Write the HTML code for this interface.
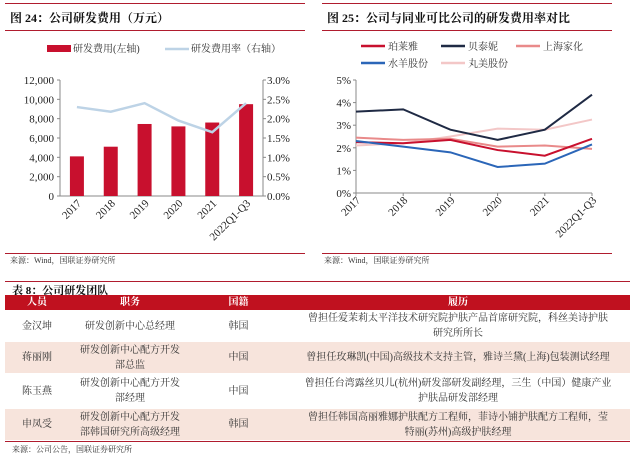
<!DOCTYPE html>
<html><head><meta charset="utf-8"><style>
body{margin:0;width:640px;height:460px;background:#fff;position:relative;overflow:hidden;font-family:"Liberation Serif","Noto Serif CJK SC",serif;}
.abs{position:absolute;}
.rl{position:absolute;height:1px;background:#b01c2e;}
.t{position:absolute;font-weight:bold;font-size:12px;color:#111;}
.src{position:absolute;font-size:8px;color:#333;}
table{position:absolute;left:5px;top:295px;width:625px;border-collapse:collapse;font-size:10px;color:#333;}
td,th{text-align:center;padding:0;line-height:15px;}
th{background:#c0111f;color:#fff;font-weight:bold;height:15px;font-size:10px;}
tr.p td{background:#f7e4dc;}
</style></head><body>
<div class="rl" style="left:5px;top:3px;width:300px"></div>
<div class="t" style="left:10px;top:9px">图 24：公司研发费用（万元）</div>
<div class="rl" style="left:5px;top:30px;width:300px"></div>
<div class="rl" style="left:322px;top:3px;width:290px"></div>
<div class="t" style="left:327px;top:9px">图 25：公司与同业可比公司的研发费用率对比</div>
<div class="rl" style="left:322px;top:30px;width:290px"></div>

<svg class="abs" style="left:0;top:0" width="640" height="275" id="svg"></svg>

<div class="rl" style="left:5px;top:253px;width:300px"></div>
<div class="src" style="left:10px;top:255px">来源：Wind，国联证券研究所</div>
<div class="rl" style="left:322px;top:253px;width:290px"></div>
<div class="src" style="left:324px;top:255px">来源：Wind，国联证券研究所</div>

<div class="rl" style="left:5px;top:281px;width:625px"></div>
<div class="t" style="left:12px;top:282px;font-size:11px">表 8：公司研发团队</div>
<table>
<tr style="height:15px"><th style="width:64px">人员</th><th style="width:122px">职务</th><th style="width:95px">国籍</th><th>履历</th></tr>
<tr style="height:32px"><td>金汉坤</td><td>研发创新中心总经理</td><td>韩国</td><td>曾担任爱茉莉太平洋技术研究院护肤产品首席研究院，科丝美诗护肤<br>研究所所长</td></tr>
<tr class="p" style="height:31px"><td>蒋丽刚</td><td>研发创新中心配方开发<br>部总监</td><td>中国</td><td>曾担任玫琳凯(中国)高级技术支持主管，雅诗兰黛(上海)包装测试经理</td></tr>
<tr style="height:36px"><td>陈玉燕</td><td>研发创新中心配方开发<br>部经理</td><td>中国</td><td>曾担任台湾露丝贝儿(杭州)研发部研发副经理，三生（中国）健康产业<br>护肤品研发部经理</td></tr>
<tr class="p" style="height:31px"><td>申凤受</td><td>研发创新中心配方开发<br>部韩国研究所高级经理</td><td>韩国</td><td>曾担任韩国高丽雅娜护肤配方工程师，菲诗小铺护肤配方工程师，莹<br>特丽(苏州)高级护肤经理</td></tr>
</table>
<div class="rl" style="left:5px;top:441px;width:625px"></div>
<div class="src" style="left:12px;top:444px">来源：公司公告，国联证券研究所</div>

<script>
const cats=["2017","2018","2019","2020","2021","2022Q1-Q3"];
const rdExp=[4100,5100,7450,7200,7600,9500];
const rdRate=[2.3,2.18,2.4,1.95,1.65,2.4];
const leftTicks=[0,2000,4000,6000,8000,10000,12000];
const rightTicks=[0,0.5,1,1.5,2,2.5,3];
const seriesNames=["珀莱雅","贝泰妮","上海家化","水羊股份","丸美股份"];
const s1=[2.25,2.2,2.35,1.9,1.65,2.4];
const s2=[3.6,3.7,2.8,2.35,2.8,4.35];
const s3=[2.45,2.35,2.4,2.05,2.1,1.95];
const s4=[2.3,2.05,1.8,1.15,1.3,2.15];
const s5=[2.1,2.2,2.5,2.85,2.8,3.25];
const pctTicks=[0,1,2,3,4,5];
const colors=["#c8102e","#1f2a44","#e98a8a","#2b66b8","#f3c7c7"];
const NS="http://www.w3.org/2000/svg";
const svg=document.getElementById('svg');
function mk(tag,at,txt){const e=document.createElementNS(NS,tag);for(const k in at)e.setAttribute(k,at[k]);if(txt!==undefined)e.textContent=txt;svg.appendChild(e);return e;}
const F='"Liberation Serif","Noto Serif CJK SC",serif';
// chart 1
const x0=60,x1=263,yb=196,yt=80;
const bw=(x1-x0)/cats.length;
const cx=i=>x0+bw*(i+0.5);
const yL=v=>yb-(v/12000)*(yb-yt);
const yR=v=>yb-(v/3)*(yb-yt);
mk('line',{x1:x0,y1:yt,x2:x0,y2:yb,stroke:'#888'});
mk('line',{x1:x1,y1:yt,x2:x1,y2:yb,stroke:'#888'});
mk('line',{x1:x0,y1:yb,x2:x1,y2:yb,stroke:'#888'});
leftTicks.forEach(v=>{mk('line',{x1:x0-3,y1:yL(v),x2:x0,y2:yL(v),stroke:'#888'});
 const t=mk('text',{x:x0-6,y:yL(v)+4,'text-anchor':'end','font-size':11,'font-family':F,fill:'#222'},v.toLocaleString('en-US'));
 });
rightTicks.forEach(v=>{mk('line',{x1:x1,y1:yR(v),x2:x1+3,y2:yR(v),stroke:'#888'});
 const t=mk('text',{x:x1+4,y:yR(v)+4,'font-size':11,'font-family':F,fill:'#222'},v.toFixed(1)+'%');
 });
rdExp.forEach((v,i)=>{const r=mk('rect',{x:cx(i)-7,y:yL(v),width:14,height:yb-yL(v),fill:'#c8102e'});
 });
const ln=mk('polyline',{points:rdRate.map((v,i)=>cx(i)+','+yR(v)).join(' '),fill:'none',stroke:'#bdd3e6','stroke-width':2.5});

cats.forEach((c,i)=>{const t=mk('text',{x:cx(i)+5,y:yb+8,'text-anchor':'end','font-size':11,'font-family':F,fill:'#222',transform:`rotate(-45 ${cx(i)+5} ${yb+8})`},c);
 });
mk('rect',{x:47,y:45,width:24,height:7,fill:'#c8102e'});
mk('text',{x:73,y:52,'font-size':10,'font-family':F,fill:'#333'},'研发费用(左轴)');
mk('line',{x1:165,y1:49,x2:189,y2:49,stroke:'#bdd3e6','stroke-width':2.5});
mk('text',{x:191,y:52,'font-size':10,'font-family':F,fill:'#333'},'研发费用率（右轴）');
// chart 2
const a0=356,a1=592,by=193,ty=80;
const px=i=>a0+(a1-a0)*i/(cats.length-1);
const py=v=>by-(v/5)*(by-ty);
mk('line',{x1:a0,y1:ty,x2:a0,y2:by,stroke:'#888'});
mk('line',{x1:a0,y1:by,x2:a1,y2:by,stroke:'#888'});
pctTicks.forEach(v=>{mk('line',{x1:a0-3,y1:py(v),x2:a0,y2:py(v),stroke:'#888'});
 const t=mk('text',{x:a0-5,y:py(v)+4,'text-anchor':'end','font-size':11,'font-family':F,fill:'#222'},v+'%');
 });
cats.forEach((c,i)=>{mk('line',{x1:px(i),y1:by,x2:px(i),y2:by+3,stroke:'#888'});
 const t=mk('text',{x:px(i)+5,y:by+8,'text-anchor':'end','font-size':11,'font-family':F,fill:'#222',transform:`rotate(-45 ${px(i)+5} ${by+8})`},c);
 });
const sers=[s1,s2,s3,s4,s5];
const order=[4,2,0,3,1];
order.forEach(k=>{const p=mk('polyline',{points:sers[k].map((v,i)=>px(i)+','+py(v)).join(' '),fill:'none',stroke:colors[k],'stroke-width':2});
 });
const lg=[[361,46],[441,46],[516,46],[361,63],[441,63]];
seriesNames.forEach((n,k)=>{mk('line',{x1:lg[k][0],y1:lg[k][1],x2:lg[k][0]+24,y2:lg[k][1],stroke:colors[k],'stroke-width':2.5});
 const t=mk('text',{x:lg[k][0]+27,y:lg[k][1]+4,'font-size':10,'font-family':F,fill:'#333'},n);
 });
</script>
</body></html>
